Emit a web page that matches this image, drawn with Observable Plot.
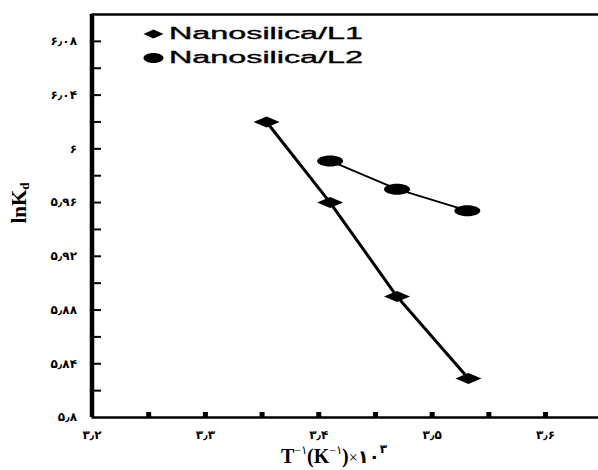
<!DOCTYPE html>
<html>
<head>
<meta charset="utf-8">
<script src="https://cdn.jsdelivr.net/npm/d3@7"></script>
<script src="https://cdn.jsdelivr.net/npm/@observablehq/plot@0.6"></script>
<style>
  html, body { margin: 0; padding: 0; background: #fff; }
  #chart { position: relative; width: 598px; height: 470px; }
</style>
</head>
<body>
<div id="chart"></div>
<script>
// ---- data ----
const seriesNames = ["Nanosilica/L1", "Nanosilica/L2"];
const l1X = [3.354, 3.41, 3.469, 3.532];
const l1Y = [6.020, 5.960, 5.890, 5.829];
const l2X = [3.41, 3.469, 3.531];
const l2Y = [5.991, 5.970, 5.954];
const xTickValues = [3.2, 3.3, 3.4, 3.5, 3.6];
const xTickMarks = [3.25, 3.3, 3.35, 3.4, 3.45, 3.5, 3.55, 3.6];
const yTickValues = [5.8, 5.84, 5.88, 5.92, 5.96, 6, 6.04, 6.08];
const yTickMarks = [5.82, 5.84, 5.86, 5.88, 5.9, 5.92, 5.94, 5.96, 5.98, 6, 6.02, 6.04, 6.06, 6.08];
const xDomain = [3.2, 3.6467];
const yDomain = [5.8, 6.1];

const l1 = l1X.map((x, i) => ({x, y: l1Y[i]}));
const l2 = l2X.map((x, i) => ({x, y: l2Y[i]}));

// Persian digits with Arabic decimal separator
const faDigits = "۰۱۲۳۴۵۶۷۸۹";
const toFa = v => String(+(+v).toFixed(2)).replace(/\d/g, c => faDigits[+c]).replace(".", "٫");

// custom marker shapes
const makeDiamond = (w, h) => ({draw(ctx) {
  ctx.moveTo(-w, 0); ctx.lineTo(0, -h); ctx.lineTo(w, 0); ctx.lineTo(0, h); ctx.closePath();
}});
const makeEllipse = (rx, ry) => ({draw(ctx) {
  const k = 0.5523;
  ctx.moveTo(-rx, 0);
  ctx.bezierCurveTo(-rx, -ry * k, -rx * k, -ry, 0, -ry);
  ctx.bezierCurveTo(rx * k, -ry, rx, -ry * k, rx, 0);
  ctx.bezierCurveTo(rx, ry * k, rx * k, ry, 0, ry);
  ctx.bezierCurveTo(-rx * k, ry, -rx, ry * k, -rx, 0);
  ctx.closePath();
}});
const symbols = [makeDiamond(13, 5.5), makeEllipse(13, 5.5)];
const legendSymbols = [makeDiamond(10, 4.5), makeEllipse(10, 5)];

const W = 598, H = 470, mL = 91.5, mR = 0, mT = 14, mB = 53;
const innerW = W - mL - mR, innerH = H - mT - mB;

const legendMarks = seriesNames.flatMap((name, i) => [
  Plot.dot([name], {frameAnchor: "top-left", dx: 61.5, dy: 19.5 + i * 24, symbol: () => "S" + i, fill: "black", stroke: "none"}),
  Plot.text([name], {text: d => d, frameAnchor: "top-left", dx: 77, dy: 19.5 + i * 24, textAnchor: "start", lineAnchor: "middle", fontSize: 16, fontFamily: "Liberation Sans, Arial, sans-serif", fill: "black"})
]);

const svg = Plot.plot({
  width: W, height: H,
  marginLeft: mL, marginRight: mR, marginTop: mT, marginBottom: mB,
  style: {background: "white", color: "black", overflow: "visible"},
  x: {domain: xDomain},
  y: {domain: yDomain},
  symbol: {domain: ["L1", "L2", "S0", "S1"], range: [...symbols, ...legendSymbols]},
  marks: [
    // inner tick marks
    Plot.tickY(yTickMarks, {y: d => d, insetRight: innerW - 9.5, stroke: "black", strokeWidth: 2}),
    Plot.tickX(xTickMarks, {x: d => d, insetTop: innerH - 5, stroke: "black", strokeWidth: 5}),
    // axes labels
    Plot.axisY({ticks: yTickValues, tickSize: 0, tickPadding: 15, tickFormat: toFa, label: null, fontSize: 12, fontWeight: "bold", fontFamily: "DejaVu Sans, sans-serif"}),
    Plot.axisX({ticks: xTickValues, tickSize: 0, tickPadding: 13, tickFormat: toFa, label: null, fontSize: 12, fontWeight: "bold", fontFamily: "DejaVu Sans, sans-serif"}),
    // frame lines
    Plot.ruleY([yDomain[0]], {stroke: "black", strokeWidth: 2.5}),
    Plot.ruleY([yDomain[1]], {stroke: "black", strokeWidth: 2.5}),
    Plot.ruleX([xDomain[0]], {stroke: "black", strokeWidth: 4.5}),
    // series
    Plot.line(l1, {x: "x", y: "y", stroke: "black", strokeWidth: 3}),
    Plot.line(l2, {x: "x", y: "y", stroke: "black", strokeWidth: 2}),
    Plot.dot(l1, {x: "x", y: "y", symbol: () => "L1", fill: "black", stroke: "none"}),
    Plot.dot(l2, {x: "x", y: "y", symbol: () => "L2", fill: "black", stroke: "none"}),
    ...legendMarks
  ]
});

const s = d3.select(svg);
// stretch legend texts horizontally like the reference
s.selectAll("text").filter(function() { return this.textContent.startsWith("Nanosilica"); })
  .attr("textLength", 194).attr("lengthAdjust", "spacingAndGlyphs")
  .attr("stroke", "black").attr("stroke-width", 0.35);

// y axis title: lnK_d
const yt = s.append("text")
  .attr("transform", "translate(26,203) rotate(-90)")
  .attr("text-anchor", "middle")
  .attr("font-family", "Liberation Serif, Times New Roman, serif")
  .attr("font-weight", "bold")
  .attr("font-size", 21)
  .attr("fill", "black");
yt.append("tspan").text("lnK");
yt.append("tspan").attr("font-size", 13).attr("dy", 3).text("d");

// x axis title: T^-1 (K^-1) x 10^3
const xt = s.append("text")
  .attr("x", 334).attr("y", 463)
  .attr("text-anchor", "middle")
  .attr("font-family", "Liberation Serif, Times New Roman, serif")
  .attr("font-weight", "bold")
  .attr("font-size", 20)
  .attr("fill", "black");
xt.append("tspan").text("T");
xt.append("tspan").attr("font-size", 12).attr("dy", -9).attr("font-weight", "normal").text("−۱");
xt.append("tspan").attr("dy", 9).text("(K");
xt.append("tspan").attr("font-size", 12).attr("dy", -9).attr("font-weight", "normal").text("−۱");
xt.append("tspan").attr("dy", 9).text(")");
xt.append("tspan").attr("font-weight", "normal").attr("font-size", 16).text("×");
xt.append("tspan").attr("font-family", "DejaVu Sans, sans-serif").attr("font-size", 18).text("۱۰");
xt.append("tspan").attr("font-family", "DejaVu Sans, sans-serif").attr("font-size", 12).attr("dy", -10).text("۳");

document.getElementById("chart").append(svg);
</script>
</body>
</html>
